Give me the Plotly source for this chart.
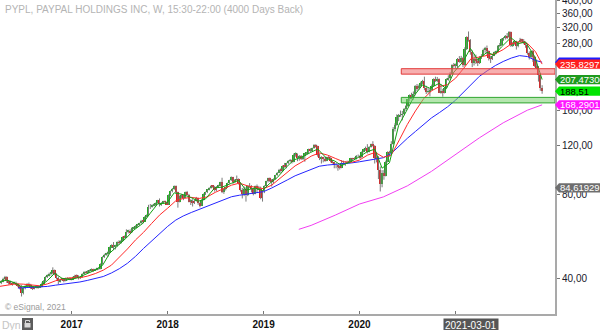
import math
import pandas as pd
import plotly.graph_objects as go

# ---------------- weekly PYPL bars (week ending Friday) ----------------
open_2016 = [38.6, 38.9, 39.9, 40.4, 39.1, 38.7, 38.4, 38.2, 38.6, 38.1, 37.6, 37.0, 35.4,
             36.9, 37.6, 38.0, 37.8, 37.2, 36.8, 37.0, 37.4, 37.0, 37.3, 38.2, 39.2, 40.5,
             41.0, 41.5, 41.8, 42.8, 41.4, 40.1, 39.0, 39.6, 39.8, 39.3, 39.7, 39.7, 39.9]
high_2016 = [39.4, 40.2, 40.8, 40.7, 39.4, 39.2, 38.8, 38.9, 38.9, 38.5, 37.9, 37.8, 37.1,
             37.8, 38.4, 38.6, 38.2, 37.5, 37.3, 37.7, 37.6, 37.6, 38.6, 39.4, 40.7, 41.3,
             41.9, 42.2, 43.8, 43.0, 41.7, 40.6, 39.9, 40.1, 40.0, 40.2, 40.3, 40.2, 40.1]
low_2016 = [38.1, 38.7, 39.5, 38.5, 38.0, 37.9, 37.6, 38.0, 37.8, 37.2, 36.5, 34.4, 35.0,
            36.5, 37.3, 37.4, 36.6, 36.3, 36.5, 36.8, 36.7, 36.9, 37.1, 37.9, 39.0, 40.1,
            40.6, 40.9, 41.3, 41.0, 39.6, 38.1, 38.6, 39.2, 38.7, 39.0, 39.3, 39.4, 39.3]
close_2016 = [38.9, 39.9, 40.4, 39.2, 38.7, 38.4, 38.2, 38.6, 38.1, 37.6, 37.0, 35.4, 36.9,
              37.6, 38.0, 37.8, 37.2, 36.8, 37.0, 37.4, 37.0, 37.3, 38.2, 39.2, 40.5, 41.0,
              41.5, 41.8, 42.8, 41.4, 40.1, 39.0, 39.6, 39.8, 39.3, 39.7, 39.7, 39.9, 39.5]

open_2017 = [39.5, 40.3, 40.9, 40.5, 40.3, 40.4, 41.5, 42.1, 42.0, 42.5, 42.6, 43.0, 42.8,
             43.0, 43.3, 43.3, 45.0, 47.7, 48.7, 49.0, 49.5, 51.8, 52.6, 52.0, 52.3, 54.0,
             53.7, 54.5, 56.4, 56.0, 58.8, 59.3, 58.6, 60.6, 60.8, 61.8, 62.4, 63.0, 64.5,
             64.0, 66.6, 67.3, 72.5, 72.5, 73.2, 73.8, 74.5, 76.3, 73.8, 74.8, 75.5, 75.3]
high_2017 = [40.6, 41.2, 41.3, 41.0, 40.8, 41.7, 42.4, 42.5, 42.8, 43.0, 43.4, 43.3, 43.3,
             43.7, 43.8, 45.3, 48.0, 49.0, 49.4, 50.0, 52.0, 53.0, 54.0, 52.8, 54.3, 54.8,
             54.9, 56.6, 57.0, 60.0, 59.8, 60.0, 61.0, 61.3, 62.1, 62.8, 63.4, 64.9, 64.9,
             66.9, 67.9, 73.5, 74.0, 73.8, 74.3, 75.0, 76.6, 77.5, 75.2, 76.0, 76.2, 75.6]
low_2017 = [39.4, 40.0, 40.2, 39.6, 39.8, 40.2, 41.3, 41.6, 41.8, 42.1, 42.3, 42.2, 42.5,
            42.7, 42.9, 43.1, 44.8, 47.3, 48.2, 47.8, 49.3, 51.5, 50.5, 50.8, 52.0, 52.7,
            53.2, 54.2, 55.6, 55.8, 58.0, 57.9, 58.3, 60.0, 60.5, 61.3, 61.9, 62.8, 63.0,
            63.8, 66.2, 67.0, 71.0, 71.8, 72.5, 72.8, 74.3, 72.5, 72.9, 74.0, 74.8, 73.5]
close_2017 = [40.3, 40.9, 40.5, 40.3, 40.4, 41.5, 42.1, 42.0, 42.5, 42.6, 43.0, 42.8, 43.0,
              43.3, 43.3, 45.0, 47.7, 48.7, 49.0, 49.5, 51.8, 52.6, 52.0, 52.3, 54.0, 53.7,
              54.5, 56.4, 56.0, 58.8, 59.3, 58.6, 60.6, 60.8, 61.8, 62.4, 63.0, 64.5, 64.0,
              66.6, 67.3, 72.5, 72.5, 73.2, 73.8, 74.5, 76.3, 73.8, 74.8, 75.5, 75.3, 73.6]

open_2018 = [73.6, 79.7, 82.5, 84.0, 86.0, 81.5, 75.5, 79.0, 79.5, 78.0, 81.5, 80.0, 75.5,
             75.9, 74.5, 75.8, 77.5, 74.6, 73.0, 76.5, 80.5, 81.5, 83.5, 84.5, 86.0, 85.5,
             83.3, 85.5, 86.0, 88.5, 82.0, 83.5, 85.0, 88.0, 90.0, 92.3, 88.5, 90.5, 91.0,
             87.8, 83.0, 80.5, 84.0, 79.5, 86.0, 86.0, 84.0, 80.5, 85.8, 83.5, 84.0, 78.0]
high_2018 = [80.2, 82.8, 84.5, 86.3, 86.3, 82.0, 79.5, 80.4, 80.0, 82.0, 82.5, 80.5, 77.0,
             77.0, 76.5, 78.5, 78.0, 75.0, 77.0, 80.8, 82.0, 83.8, 85.0, 86.4, 86.5, 86.0,
             85.8, 86.8, 89.0, 92.0, 84.0, 85.5, 88.4, 90.5, 93.0, 92.7, 91.0, 93.7, 91.5,
             88.5, 84.5, 85.5, 85.0, 86.5, 88.0, 86.5, 84.5, 86.2, 87.0, 86.0, 85.5, 83.0]
low_2018 = [73.4, 79.0, 81.5, 83.2, 80.5, 71.8, 75.0, 77.5, 76.4, 77.8, 79.5, 75.0, 73.4,
            72.5, 74.0, 75.5, 73.5, 72.0, 72.9, 76.2, 79.8, 81.0, 82.8, 84.0, 84.5, 82.0,
            82.5, 84.8, 85.7, 81.0, 80.5, 82.8, 84.5, 87.5, 89.5, 87.5, 88.0, 89.8, 87.0,
            82.0, 77.5, 79.0, 75.5, 79.0, 84.5, 81.5, 79.5, 80.2, 81.5, 83.0, 77.0, 75.5]
close_2018 = [79.7, 82.5, 84.0, 86.0, 81.5, 75.5, 79.0, 79.5, 78.0, 81.5, 80.0, 75.5, 75.9,
              74.5, 75.8, 77.5, 74.6, 73.0, 76.5, 80.5, 81.5, 83.5, 84.5, 86.0, 85.5, 83.3,
              85.5, 86.0, 88.5, 82.0, 83.5, 85.0, 88.0, 90.0, 92.3, 88.5, 90.5, 91.0, 87.8,
              83.0, 80.5, 84.0, 79.5, 86.0, 86.0, 84.0, 80.5, 85.8, 83.5, 84.0, 78.0, 82.5]

open_2019 = [82.5, 86.0, 89.5, 91.5, 90.0, 89.5, 91.0, 94.0, 96.0, 98.5, 97.5, 101.5, 101.0,
             103.8, 106.0, 106.5, 105.0, 111.5, 112.0, 108.0, 110.0, 107.5, 109.8, 112.5, 113.0,
             116.5, 114.5, 117.5, 121.0, 119.5, 111.0, 108.0, 108.5, 107.5, 106.0, 109.0, 108.5,
             105.5, 104.5, 102.0, 102.0, 101.0, 100.0, 104.0, 104.0, 104.0, 104.5, 105.0, 108.0,
             107.5, 107.5, 110.5]
high_2019 = [86.5, 89.8, 92.0, 92.2, 91.0, 91.5, 94.3, 96.5, 99.0, 99.5, 102.0, 104.0, 104.2,
             106.5, 107.5, 107.0, 112.5, 113.5, 112.5, 111.0, 111.0, 110.5, 113.0, 114.0, 117.0,
             117.5, 118.0, 121.5, 121.5, 120.0, 112.5, 110.0, 109.5, 109.5, 109.5, 110.5, 109.0,
             106.5, 105.0, 104.0, 102.5, 102.0, 106.5, 106.0, 105.5, 106.0, 106.0, 108.5, 108.5,
             109.0, 111.0, 111.5]
low_2019 = [81.0, 85.5, 88.5, 88.8, 85.5, 88.0, 90.5, 93.5, 95.5, 95.5, 97.0, 100.0, 99.5,
            103.0, 104.5, 103.5, 104.5, 109.5, 105.5, 106.0, 106.5, 106.5, 105.0, 111.5, 112.5,
            113.5, 114.0, 117.0, 118.0, 109.5, 106.5, 103.5, 104.5, 105.0, 105.5, 107.0, 104.5,
            103.5, 99.5, 99.5, 97.5, 98.5, 99.5, 102.5, 101.5, 103.0, 103.5, 104.5, 106.0,
            106.5, 107.0, 109.0]
close_2019 = [86.0, 89.5, 91.5, 90.0, 89.5, 91.0, 94.0, 96.0, 98.5, 97.5, 101.5, 101.0, 103.8,
              106.0, 106.5, 105.0, 111.5, 112.0, 108.0, 110.0, 107.5, 109.8, 112.5, 113.0, 116.5,
              114.5, 117.5, 121.0, 119.5, 111.0, 108.0, 108.5, 107.5, 106.0, 109.0, 108.5, 105.5,
              104.5, 102.0, 102.0, 101.0, 100.0, 104.0, 104.0, 104.0, 104.5, 105.0, 108.0, 107.5,
              107.5, 110.5, 110.5]

open_2020 = [110.5, 109.0, 114.0, 116.5, 117.5, 113.9, 119.0, 121.5, 120.0, 108.0, 109.5, 98.0,
             87.0, 95.5, 93.5, 105.0, 113.5, 113.0, 122.0, 138.0, 142.0, 152.5, 155.0, 155.0,
             155.5, 162.5, 166.0, 176.0, 182.0, 180.0, 184.0, 196.1, 193.0, 197.0, 201.5, 205.0,
             193.5, 187.5, 188.0, 191.0, 196.5, 208.0, 206.5, 208.5, 186.1, 188.0, 186.0, 194.0,
             208.0, 210.0, 218.0, 234.0]
high_2020 = [111.0, 114.5, 117.0, 119.0, 121.5, 119.5, 122.0, 124.5, 120.5, 114.0, 110.0, 101.0,
             98.0, 98.0, 106.0, 114.5, 115.0, 124.5, 140.0, 144.5, 155.5, 156.0, 160.5, 160.0,
             164.0, 168.0, 176.5, 183.5, 186.0, 188.0, 198.0, 200.0, 199.0, 204.0, 207.0, 212.5,
             197.0, 194.0, 192.0, 199.0, 209.5, 212.5, 212.0, 209.5, 200.0, 192.0, 195.0, 209.5,
             215.0, 221.0, 235.5, 238.0]
low_2020 = [107.5, 108.5, 113.5, 115.0, 112.5, 113.5, 118.0, 119.0, 103.5, 104.5, 91.0, 82.1,
            85.0, 90.5, 93.0, 104.5, 109.5, 111.5, 121.0, 135.0, 141.5, 147.0, 152.5, 148.0,
            154.5, 160.0, 165.5, 173.0, 176.0, 175.5, 182.0, 188.0, 190.5, 195.0, 199.5, 190.0,
            184.0, 185.0, 180.5, 189.0, 196.0, 203.5, 203.0, 185.5, 184.5, 180.0, 185.0, 193.5,
            205.5, 207.5, 217.0, 229.0]
close_2020 = [109.0, 114.0, 116.5, 117.5, 113.9, 119.0, 121.5, 120.0, 108.0, 109.5, 98.0, 87.0,
              95.5, 93.5, 105.0, 113.5, 113.0, 122.0, 138.0, 142.0, 152.5, 155.0, 155.0, 155.5,
              162.5, 166.0, 176.0, 182.0, 180.0, 184.0, 196.1, 193.0, 197.0, 201.5, 205.0, 193.5,
              187.5, 188.0, 191.0, 196.5, 208.0, 206.5, 208.5, 186.1, 188.0, 186.0, 194.0, 208.0,
              210.0, 218.0, 234.0, 233.0]

open_2021 = [233.0, 234.2, 245.0, 240.0, 248.0, 234.3, 267.0, 294.5, 287.0, 259.9, 237.5, 247.0,
             241.0, 238.0, 249.0, 253.0, 266.0, 269.0, 262.3, 248.0, 247.0, 253.0, 260.0, 261.0,
             274.0, 276.0, 290.0, 292.0, 298.0, 294.0, 308.0, 275.5, 280.0, 285.0, 273.0, 283.0,
             288.0, 286.0, 282.0, 277.0, 259.0, 250.0, 262.0, 250.0, 232.6, 230.0, 215.0, 193.0]
high_2021 = [237.0, 248.0, 252.0, 252.5, 250.0, 271.0, 297.0, 309.0, 290.0, 264.0, 256.0, 255.0,
             246.0, 252.0, 256.0, 268.0, 272.0, 275.0, 264.0, 252.0, 256.0, 262.0, 264.0, 276.0,
             281.0, 292.0, 295.0, 300.0, 305.0, 310.0, 309.0, 283.0, 288.0, 286.0, 285.0, 293.0,
             291.0, 290.0, 284.0, 279.0, 262.0, 264.0, 265.0, 252.0, 245.0, 232.0, 219.0, 198.0]
low_2021 = [228.0, 229.0, 238.5, 238.0, 230.0, 232.0, 265.0, 284.0, 255.0, 230.0, 233.0, 236.0,
            232.0, 236.0, 246.0, 252.0, 259.0, 255.0, 243.0, 238.0, 244.0, 252.0, 256.0, 260.0,
            271.0, 274.0, 286.0, 289.0, 290.0, 293.0, 272.0, 272.0, 277.0, 266.0, 271.0, 282.0,
            281.0, 278.0, 270.0, 255.0, 245.0, 248.0, 240.0, 230.0, 226.0, 204.0, 189.0, 184.5]
close_2021 = [234.2, 245.0, 240.0, 248.0, 234.3, 267.0, 294.5, 287.0, 259.9, 237.5, 247.0, 241.0,
              238.0, 249.0, 253.0, 266.0, 269.0, 262.3, 248.0, 247.0, 253.0, 260.0, 261.0, 274.0,
              276.0, 290.0, 292.0, 298.0, 294.0, 308.0, 275.5, 280.0, 285.0, 273.0, 283.0, 288.0,
              286.0, 282.0, 277.0, 259.0, 250.0, 262.0, 250.0, 232.6, 230.0, 215.0, 193.0, 188.51]

# ---------------- moving averages ----------------
fast_ma_dates = ["2016-04-08", "2016-04-29", "2016-05-27", "2016-06-24", "2016-07-29", "2016-08-26",
                 "2016-09-30", "2016-10-28", "2016-11-25", "2016-12-30",
                 "2017-01-27", "2017-02-24", "2017-03-31", "2017-04-28", "2017-05-26", "2017-06-30",
                 "2017-07-28", "2017-08-25", "2017-09-29", "2017-10-27", "2017-11-24", "2017-12-29",
                 "2018-01-26", "2018-02-23", "2018-03-30", "2018-04-27", "2018-05-25", "2018-06-29",
                 "2018-07-27", "2018-08-31", "2018-09-28", "2018-10-26", "2018-11-30", "2018-12-28",
                 "2019-01-25", "2019-02-22", "2019-03-29", "2019-04-26", "2019-05-31", "2019-06-28",
                 "2019-07-26", "2019-08-30", "2019-09-27", "2019-10-25", "2019-11-29", "2019-12-27",
                 "2020-01-31", "2020-02-28", "2020-03-27", "2020-04-24", "2020-05-29", "2020-06-26",
                 "2020-07-31", "2020-08-28", "2020-09-25", "2020-10-30", "2020-11-27", "2020-12-25",
                 "2021-01-29", "2021-02-26", "2021-03-26", "2021-04-30", "2021-05-28", "2021-06-25",
                 "2021-07-30", "2021-08-27", "2021-09-24", "2021-10-29", "2021-11-26"]
fast_ma = [39.0, 39.4, 38.6, 37.3, 37.5, 37.1, 39.2, 41.7, 40.0, 39.6,
           40.3, 41.3, 42.8, 44.5, 49.3, 52.9, 55.9, 59.6, 63.1, 68.6, 74.1, 74.6,
           81.2, 80.3, 78.2, 75.7, 77.2, 84.6, 85.1, 87.8, 90.0, 83.0, 84.5, 82.8,
           87.9, 92.1, 100.5, 106.6, 109.5, 113.3, 116.7, 107.8, 105.9, 101.8, 105.1, 108.8,
           114.2, 116.5, 99.6, 104.1, 141.9, 158.8, 183.6, 198.5, 193.0, 201.1, 192.4, 220.6,
           240.3, 268.5, 244.7, 259.9, 254.1, 272.2, 293.5, 279.3, 283.2, 250.7, 207.473]

month_dates = pd.date_range("2016-04-01", "2021-11-01", freq="MS").strftime("%Y-%m-%d").tolist()
mid_ma_dates = month_dates + ["2021-11-26"]
mid_ma = [37.4, 37.8, 38.2, 38.1, 37.8, 37.6, 38.2, 39.2, 39.9,
          40.2, 40.2, 40.7, 41.6, 42.8, 44.6, 47.5, 51.0, 55.0, 58.5, 63.0, 67.5,
          71.5, 76.0, 77.5, 78.2, 77.5, 78.5, 81.5, 84.0, 86.5, 88.0, 86.0, 85.0,
          84.0, 86.5, 91.0, 96.5, 101.5, 105.5, 110.0, 113.0, 111.0, 108.0, 105.0, 104.5,
          106.5, 111.0, 113.5, 109.0, 111.0, 126.0, 143.0, 160.0, 177.0, 189.0, 196.0, 199.0,
          210.0, 228.0, 247.0, 250.0, 254.0, 257.0, 266.0, 279.0, 284.0, 280.0, 261.0, 235.8297]

slow_ma_dates = ["2016-06-10"] + month_dates[3:] + ["2021-11-26"]
slow_ma = [36.9, 37.0, 37.1, 37.2, 37.4, 37.8, 38.1,
           38.4, 38.8, 39.3, 39.9, 40.6, 41.8, 43.3, 45.3, 48.0, 51.2, 54.5, 58.0,
           61.5, 64.8, 67.0, 69.0, 70.8, 72.6, 74.5, 76.5, 78.6, 79.6, 80.3, 80.8,
           82.0, 84.5, 87.0, 90.3, 93.5, 96.2, 99.0, 101.2, 102.2, 102.6, 103.3, 104.0,
           105.0, 106.2, 107.5, 108.6, 112.5, 120.0, 127.5, 135.0, 143.5, 151.0, 158.0, 165.5,
           175.0, 187.0, 200.0, 213.0, 223.0, 233.0, 241.0, 248.0, 253.0, 251.0, 243.0, 239.6]

long_ma_dates = ["2019-05-15", "2019-07-01", "2019-10-01", "2020-01-01", "2020-04-01", "2020-07-01",
                 "2020-10-01", "2021-01-01", "2021-04-01", "2021-07-01", "2021-10-01", "2021-11-26"]
long_ma = [60.0, 62.0, 67.5, 74.0, 78.5, 86.0, 97.0, 112.0, 128.0, 145.0, 161.0, 168.29012]

# support / resistance zones
zone_start = "2020-06-08"
resistance_zone = (217.0, 227.0)
support_zone = (171.0, 179.0)

# extra price marker shown on the scale
marker_level = 84.61929

# ---------------- assemble ----------------
opens = open_2016 + open_2017 + open_2018 + open_2019 + open_2020 + open_2021
highs = high_2016 + high_2017 + high_2018 + high_2019 + high_2020 + high_2021
lows = low_2016 + low_2017 + low_2018 + low_2019 + low_2020 + low_2021
closes = close_2016 + close_2017 + close_2018 + close_2019 + close_2020 + close_2021
weeks = pd.date_range("2016-04-08", periods=len(closes), freq="7D")

X_RANGE = ["2016-04-03", "2022-01-14"]
Y_LO, Y_HI = math.log10(29.76), math.log10(401.0)
PLOT_W, PLOT_H = 555, 314
FONT = "Liberation Sans, Arial, sans-serif"

fig = go.Figure()

# wicks
wx, wy = [], []
for d, lo, hi in zip(weeks, lows, highs):
    wx += [d, d, None]
    wy += [lo, hi, None]
fig.add_trace(go.Scatter(x=wx, y=wy, mode="lines", line=dict(color="#7a7a7a", width=1),
                         hoverinfo="skip"))

# candle bodies
up = [c >= o for o, c in zip(opens, closes)]
for is_up, colour in ((True, "#1fae1f"), (False, "#e21c1c")):
    sel = [i for i, u in enumerate(up) if u == is_up]
    fig.add_trace(go.Bar(
        x=[weeks[i] for i in sel],
        base=[min(opens[i], closes[i]) for i in sel],
        y=[abs(closes[i] - opens[i]) for i in sel],
        width=7 * 86400000,
        marker=dict(color=colour, line=dict(width=0)),
        hoverinfo="skip"))

# moving averages
for xs, ys, colour in ((long_ma_dates, long_ma, "#f23ef2"),
                       (slow_ma_dates, slow_ma, "#2424ff"),
                       (mid_ma_dates, mid_ma, "#ff2a2a"),
                       (fast_ma_dates, fast_ma, "#12a012")):
    fig.add_trace(go.Scatter(x=xs, y=ys, mode="lines", line=dict(color=colour, width=1),
                             hoverinfo="skip"))

# zones
for (z_lo, z_hi), fill, edge in ((resistance_zone, "rgba(240,110,110,0.55)", "#e23a3a"),
                                 (support_zone, "rgba(120,210,110,0.55)", "#2fa52f")):
    fig.add_trace(go.Scatter(x=[zone_start, X_RANGE[1], X_RANGE[1], zone_start, zone_start],
                             y=[z_lo, z_lo, z_hi, z_hi, z_lo], mode="lines", fill="toself",
                             fillcolor=fill, line=dict(color=edge, width=1), hoverinfo="skip"))


def paper_y(v):
    return (math.log10(v) - Y_LO) / (Y_HI - Y_LO)


shapes, annotations = [], []
px, py = 1.0 / PLOT_W, 1.0 / PLOT_H


def price_tag(value, bg, text="", fg="#ffffff"):
    y = paper_y(value)
    h = 4.6 * py
    shapes.append(dict(type="path", xref="paper", yref="paper", layer="above",
                       path=f"M 1,{y} L {1 + 4 * px},{y + h} L {1 + 60 * px},{y + h} "
                            f"L {1 + 60 * px},{y - h} L {1 + 4 * px},{y - h} Z",
                       fillcolor=bg, line=dict(width=0)))
    if text:
        annotations.append(dict(xref="paper", yref="paper", x=1 + 3 * px, y=y, xanchor="left",
                                yanchor="middle", text=text, showarrow=False,
                                font=dict(family=FONT, size=9.5, color=fg)))


price_tag(slow_ma[-1], "#1c1cff")
price_tag(mid_ma[-1], "#ff1e1e", "235,8297")
price_tag(fast_ma[-1], "#1f9a1f", "207,47300")
price_tag(closes[-1], "#00e400", "188,51", "#000000")
price_tag(long_ma[-1], "#ff14ff", "168,29012")
price_tag(marker_level, "#6e6e6e", "84,61929")

# header, footer and status items
annotations += [
    dict(xref="paper", yref="paper", x=3 * px, y=1 - 10 * py, xanchor="left", yanchor="middle",
         text="PYPL, PAYPAL HOLDINGS INC, W, 15:30-22:00 (4000 Days Back)", showarrow=False,
         font=dict(family=FONT, size=10, color="#b4b4b4")),
    dict(xref="paper", yref="paper", x=3 * px, y=1 - 306.5 * py, xanchor="left", yanchor="middle",
         text="© eSignal, 2021", showarrow=False, font=dict(family=FONT, size=8.5, color="#9a9a9a")),
    dict(xref="paper", yref="paper", x=0, y=-11 * py, xanchor="left", yanchor="middle",
         text="Dyn", showarrow=False, font=dict(family=FONT, size=10.5, color="#c4c4c4")),
    dict(xref="x", yref="paper", x="2021-03-01", y=-11 * py, xanchor="center", yanchor="middle",
         text="2021-03-01", showarrow=False, bgcolor="#565656", borderpad=1,
         font=dict(family=FONT, size=10, color="#ffffff")),
]
shapes += [
    dict(type="rect", xref="paper", yref="paper", x0=22 * px, x1=33 * px, y0=-16 * py, y1=-4 * py,
         fillcolor="#5c5c5c", line=dict(width=0)),
    dict(type="rect", xref="paper", yref="paper", x0=24.5 * px, x1=30.5 * px, y0=-13.5 * py,
         y1=-9 * py, fillcolor="#d8d8d8", line=dict(width=0)),
    dict(type="path", xref="paper", yref="paper",
         path=f"M {25.5 * px},{-9 * py} L {25.5 * px},{-6.5 * py} L {29.5 * px},{-6.5 * py} "
              f"L {29.5 * px},{-8 * py}",
         line=dict(color="#d8d8d8", width=1)),
]

y_ticks = [40, 80, 120, 160, 280, 320, 360, 400]
year_ticks = ["2017-01-01", "2018-01-01", "2019-01-01", "2020-01-01", "2021-01-01"]
year_labels = ["2017", "2018", "2019", "2020", ""]

fig.update_layout(
    width=600, height=330,
    margin=dict(l=0, r=600 - PLOT_W, t=0, b=330 - PLOT_H, autoexpand=False),
    paper_bgcolor="#ffffff", plot_bgcolor="#ffffff",
    showlegend=False, barmode="overlay", bargap=0,
    shapes=shapes, annotations=annotations,
    xaxis=dict(type="date", range=X_RANGE, showgrid=False, zeroline=False, automargin=False,
               rangeslider=dict(visible=False),
               showline=True, linecolor="#a9a9a9", linewidth=2,
               tickvals=year_ticks, ticktext=year_labels, ticks="inside", ticklen=3,
               tickcolor="#777777",
               tickfont=dict(family=FONT, size=10, color="#111111", weight="bold")),
    yaxis=dict(type="log", range=[Y_LO, Y_HI], side="right", showgrid=False, zeroline=False,
               automargin=False,
               showline=True, linecolor="#a9a9a9", linewidth=2,
               tickvals=y_ticks, ticktext=[f"{v},00" for v in y_ticks],
               ticks="outside", ticklen=3, tickcolor="#777777", ticklabeloverflow="allow",
               tickfont=dict(family=FONT, size=10, color="#1a1a2a")),
)

fig.write_html("out.html")
